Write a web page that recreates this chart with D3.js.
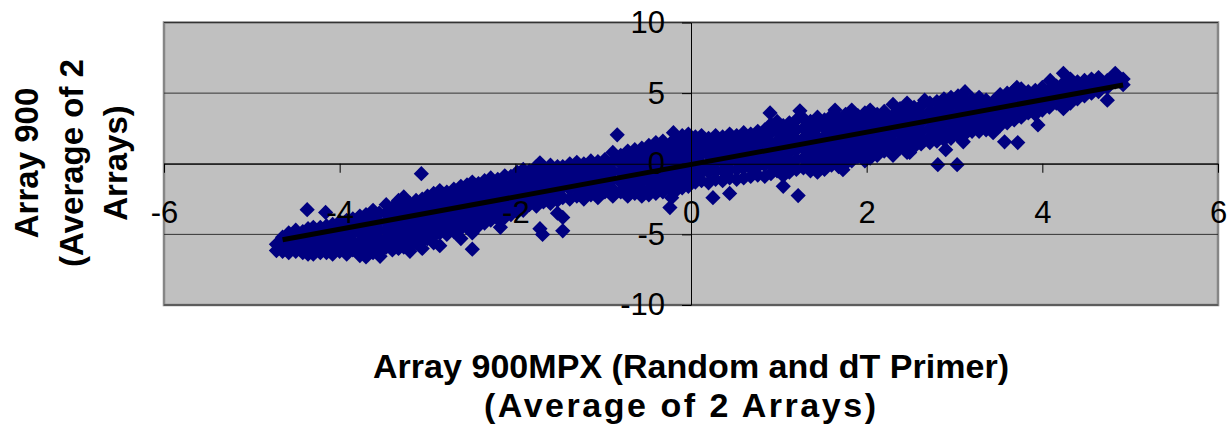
<!DOCTYPE html>
<meta charset="utf-8">
<head>
  <title>Array 900 vs Array 900MPX</title>
</head>

<style>
body { margin: 0; background: #fff; }
text { font-family: "Liberation Sans", Arial, sans-serif; fill: #000; }
.tick text { font-size: 31px; }
.axis-title { font-size: 34px; font-weight: bold; }
.y-title { font-size: 33px; font-weight: bold; }
</style>

<body>
  <svg width="1230" height="426"></svg>

  <script src="https://cdnjs.cloudflare.com/ajax/libs/d3/7.8.5/d3.min.js"></script>
  <script>

const xTicks = [-6, -4, -2, 0, 2, 4, 6];
const yTicks = [-10, -5, 0, 5, 10];

const xTitle = ["Array 900MPX (Random and dT Primer)", "(Average of 2 Arrays)"];
const xTitleWidth = [636, 392];
const xTitleCenter = [691, 680];
const yTitle = ["Array 900", "(Average of 2", "Arrays)"];

// linear trend line, two ends
const trendX = [-4.65, 4.92];
const trendY = [-5.38, 5.58];

// the dense band, one column per x: [x, [y values]]
const bandLeft = [
  [-4.72, [-5.7, -6.15]],
  [-4.65, [-5.2, -5.7, -6.2]],
  [-4.58, [-4.9, -5.4, -5.9, -6.3]],
  [-4.50, [-4.7, -5.2, -5.7, -6.2]],
  [-4.42, [-4.8, -5.3, -5.8, -6.3]],
  [-4.36, [-4.6, -5.1, -5.6, -6.1, -6.4]],
  [-4.30, [-4.5, -5.0, -5.5, -6.0, -6.4]],
  [-4.22, [-4.5, -5.0, -5.5, -6.0, -6.3]],
  [-4.15, [-4.4, -4.9, -5.4, -5.9, -6.3]],
  [-4.08, [-4.3, -4.8, -5.3, -5.8, -6.4]],
  [-4.00, [-4.1, -4.6, -5.1, -5.6, -6.2]],
  [-3.92, [-4.0, -4.5, -5.0, -5.6, -6.1, -6.4]],
  [-3.85, [-3.9, -4.4, -4.9, -5.5, -6.1]],
  [-3.77, [-3.7, -4.3, -4.9, -5.5, -6.0, -6.5]],
  [-3.70, [-3.6, -4.2, -4.8, -5.4, -6.0, -6.6]],
  [-3.62, [-3.3, -3.9, -4.5, -5.1, -5.7, -6.3]],
  [-3.55, [-3.5, -4.1, -4.7, -5.3, -5.8, -6.3]],
  [-3.47, [-2.9, -3.5, -4.1, -4.7, -5.3, -5.9]],
  [-3.40, [-3.1, -3.7, -4.3, -4.9, -5.5, -6.1]],
  [-3.33, [-2.6, -3.2, -3.8, -4.4, -5.0, -5.6, -6.0]],
  [-3.27, [-2.35, -3.0, -3.6, -4.2, -4.8, -5.4, -5.9]],
  [-3.20, [-2.8, -3.4, -4.0, -4.6, -5.2, -5.8, -6.2]],
  [-3.13, [-2.6, -3.2, -3.8, -4.4, -5.0, -5.6]],
  [-3.06, [-2.5, -3.1, -3.7, -4.3, -4.9, -5.5, -6.0]],
  [-3.00, [-2.3, -2.9, -3.5, -4.1, -4.7, -5.3]],
  [-2.93, [-2.1, -2.7, -3.3, -3.9, -4.5, -5.1, -5.6]],
  [-2.86, [-1.9, -2.5, -3.1, -3.7, -4.3, -4.9, -5.8]],
  [-2.78, [-2.0, -2.6, -3.2, -3.8, -4.4, -5.0]],
  [-2.70, [-1.8, -2.4, -3.0, -3.6, -4.2, -4.8]],
  [-2.62, [-1.6, -2.2, -2.8, -3.4, -4.0, -4.6, -5.3]],
  [-2.55, [-1.5, -2.1, -2.7, -3.3, -3.9, -4.5]],
  [-2.49, [-1.3, -1.9, -2.5, -3.1, -3.7, -4.3, -4.9]],
  [-2.42, [-1.4, -2.0, -2.6, -3.2, -3.8, -4.4]],
  [-2.35, [-1.2, -1.8, -2.4, -3.0, -3.6, -4.2]],
  [-2.28, [-1.0, -1.6, -2.2, -2.8, -3.4, -4.0]],
  [-2.20, [-1.1, -1.7, -2.3, -2.9, -3.5, -3.9]],
  [-2.12, [-0.85, -1.5, -2.1, -2.7, -3.3, -3.8]],
  [-2.05, [-0.9, -1.5, -2.1, -2.7, -3.3, -3.6]],
  [-1.98, [-0.6, -1.2, -1.8, -2.4, -3.0, -3.4]],
  [-1.91, [-0.4, -1.0, -1.6, -2.2, -2.8, -3.3]],
  [-1.84, [-0.5, -1.1, -1.7, -2.3, -2.9]],
  [-1.76, [-0.2, -0.8, -1.4, -2.0, -2.6, -3.0]],
  [-1.68, [-0.3, -0.9, -1.5, -2.1, -2.7]],
  [-1.60, [-0.1, -0.7, -1.3, -1.9, -2.5, -2.8]],
  [-1.52, [-0.2, -0.8, -1.4, -2.0, -2.6, -3.5]]
];

const bandCenter = [
  [-1.46, [-0.2, -0.9, -1.6, -2.4]],
  [-1.38, [0.0, -0.5, -1.1, -1.8, -2.5]],
  [-1.30, [0.1, -0.4, -1.0, -1.6, -2.3]],
  [-1.22, [0.0, -0.6, -1.2, -1.9, -2.5]],
  [-1.14, [0.2, -0.3, -0.9, -1.5, -2.2]],
  [-1.06, [0.15, -0.4, -1.0, -1.7, -2.4]],
  [-0.98, [0.3, -0.2, -0.8, -1.4, -2.0]],
  [-0.89, [0.8, 0.2, -0.5, -1.1, -1.8, -2.3]],
  [-0.80, [0.6, 0.0, -0.6, -1.3, -2.0]],
  [-0.72, [0.9, 0.3, -0.4, -1.0, -1.7, -2.3]],
  [-0.64, [1.0, 0.4, -0.2, -0.9, -1.5, -2.1]],
  [-0.56, [1.1, 0.5, -0.1, -0.7, -1.3, -1.9, -2.3]],
  [-0.48, [1.3, 0.7, 0.1, -0.6, -1.2, -1.8, -2.2]],
  [-0.40, [1.5, 0.8, 0.2, -0.4, -1.0, -1.6, -2.1]],
  [-0.32, [1.6, 1.0, 0.3, -0.3, -0.9, -1.5, -2.0]],
  [-0.24, [1.4, 0.7, 0.0, -0.7, -1.3, -1.8]],
  [-0.17, [1.8, 1.1, 0.4, -0.2, -0.8, -1.4, -1.9]],
  [-0.10, [2.0, 1.3, 0.6, 0.0, -0.6, -1.2, -1.7]],
  [-0.03, [2.1, 1.5, 0.8, 0.1, -0.5, -1.1, -1.6]],
  [0.05, [1.9, 1.2, 0.5, -0.1, -0.7, -1.3]],
  [0.12, [2.0, 1.4, 0.7, 0.0, -0.6, -1.2]],
  [0.20, [1.8, 1.2, 0.6, 0.0, -0.6, -1.35]],
  [0.28, [2.0, 1.4, 0.8, 0.1, -0.5, -1.1]],
  [0.36, [1.9, 1.3, 0.7, 0.1, -0.5, -1.2]],
  [0.44, [2.1, 1.5, 0.9, 0.2, -0.4, -1.0]],
  [0.52, [2.0, 1.4, 0.8, 0.2, -0.4, -1.1]],
  [0.60, [2.2, 1.6, 1.0, 0.3, -0.3, -1.0]],
  [0.68, [2.1, 1.5, 0.9, 0.3, -0.3, -0.9]],
  [0.76, [2.3, 1.7, 1.1, 0.4, -0.2, -0.8]],
  [0.84, [2.4, 1.8, 1.2, 0.5, -0.1, -0.9]],
  [0.91, [2.8, 2.2, 1.4, 0.7, 0.0, -0.7]],
  [0.98, [3.0, 2.3, 1.6, 0.9, 0.2, -0.5]],
  [1.05, [2.7, 2.0, 1.3, 0.6, -0.1, -0.85]],
  [1.12, [2.9, 2.2, 1.5, 0.8, 0.1, -0.6]],
  [1.20, [3.1, 2.4, 1.7, 1.0, 0.3, -0.4]],
  [1.28, [3.2, 2.5, 1.8, 1.1, 0.4, -0.3]],
  [1.36, [3.0, 2.3, 1.6, 0.9, 0.2, -0.5]],
  [1.44, [3.3, 2.6, 1.9, 1.2, 0.5, -0.2, -0.6]]
];

const bandRight = [
  [1.52, [3.1, 2.5, 1.9, 1.3, 0.7, 0.1, -0.4]],
  [1.60, [3.4, 2.8, 2.2, 1.6, 1.0, 0.4, -0.1]],
  [1.68, [3.2, 2.6, 2.0, 1.4, 0.8, 0.2, -0.2]],
  [1.76, [3.5, 2.9, 2.3, 1.7, 1.1, 0.5, 0.0]],
  [1.83, [3.0, 2.4, 1.8, 1.2, 0.6, 0.2]],
  [1.90, [3.4, 2.8, 2.2, 1.6, 1.0, 0.5]],
  [1.98, [3.6, 3.0, 2.4, 1.8, 1.2, 0.6, 0.2]],
  [2.04, [3.1, 2.5, 1.9, 1.3, 0.7, 0.4]],
  [2.12, [3.5, 2.9, 2.3, 1.7, 1.1, 0.6]],
  [2.20, [3.7, 3.1, 2.5, 1.9, 1.3, 0.9]],
  [2.30, [3.4, 2.8, 2.2, 1.6, 1.0, 0.6]],
  [2.38, [3.9, 3.3, 2.7, 2.1, 1.5, 1.1]],
  [2.46, [3.6, 3.0, 2.4, 1.8, 1.2, 0.8]],
  [2.54, [4.0, 3.4, 2.8, 2.2, 1.6, 1.2]],
  [2.62, [4.1, 3.5, 2.9, 2.3, 1.8, 1.4]],
  [2.72, [4.3, 3.7, 3.1, 2.5, 1.9, 1.5]],
  [2.80, [4.4, 3.8, 3.2, 2.6, 2.0, 1.6]],
  [2.88, [4.6, 4.0, 3.4, 2.8, 2.2, 1.7]],
  [2.96, [4.7, 4.1, 3.5, 2.9, 2.3, 1.8]],
  [3.04, [4.8, 4.2, 3.6, 3.0, 2.4, 2.0]],
  [3.12, [4.4, 3.8, 3.2, 2.6, 2.1]],
  [3.20, [4.6, 4.0, 3.4, 2.8, 2.3]],
  [3.28, [4.7, 4.1, 3.5, 2.9, 2.3]],
  [3.36, [4.5, 3.9, 3.3, 2.7, 2.4]],
  [3.44, [4.4, 3.8, 3.2, 2.6, 2.2]],
  [3.52, [4.9, 4.3, 3.7, 3.1, 2.7]],
  [3.60, [5.0, 4.4, 3.8, 3.2, 2.9]],
  [3.68, [5.2, 4.6, 4.0, 3.4, 3.1]],
  [3.76, [5.3, 4.7, 4.1, 3.5, 3.3]],
  [3.84, [5.1, 4.5, 3.9, 3.6]],
  [3.92, [5.2, 4.6, 4.0, 3.5]],
  [4.00, [5.4, 4.8, 4.2, 3.8]],
  [4.08, [5.2, 4.6, 4.0]],
  [4.16, [5.5, 4.9, 4.3]],
  [4.24, [5.7, 5.1, 4.5, 3.9]],
  [4.32, [6.0, 5.4, 4.8, 4.3]],
  [4.40, [5.8, 5.2, 4.6]],
  [4.48, [5.9, 5.3, 4.8]],
  [4.56, [6.0, 5.5, 5.0]],
  [4.64, [6.1, 5.6, 5.1]],
  [4.74, [5.9, 5.4]],
  [4.83, [6.3, 5.8]],
  [4.92, [5.6, 6.0]]
];

// single diamonds standing away from the band
const outliers = [
  [-4.37, -3.25], [-4.16, -3.45], [-3.54, -6.55], [-3.07, -0.7], [-2.49, -6.05],
  [-2.17, -4.5], [-1.72, 0.07], [-1.69, -5.0], [-1.72, -4.6], [-1.46, -4.75],
  [-1.46, -3.8], [-0.84, 2.05], [-0.2, 2.2], [-0.24, -3.1], [-0.22, -2.4],
  [0.25, -2.4], [0.44, -2.1], [0.9, 3.6], [1.05, -1.6], [1.22, -2.25],
  [1.24, 3.75], [1.64, 3.8], [1.83, 3.8], [2.04, 3.8], [1.73, -0.42],
  [2.3, 4.2], [2.46, 4.3], [2.66, 4.5], [2.49, 0.8], [2.81, -0.07],
  [3.03, -0.07], [2.9, 1.0], [3.1, 1.55], [3.12, 5.1], [3.57, 1.55],
  [3.72, 1.5], [3.71, 5.4], [3.95, 2.75], [4.09, 5.9], [4.24, 6.4],
  [4.28, 4.2], [4.74, 4.5], [4.83, 6.4]
];

const points = [];
[bandLeft, bandCenter, bandRight].forEach(band => {
  band.forEach(col => col[1].forEach(v => points.push({x: col[0], y: v})));
});
outliers.forEach(d => points.push({x: d[0], y: d[1]}));

const svg = d3.select('svg');

const x = d3.scaleLinear().domain([-6, 6]).range([164, 1218]);
const y = d3.scaleLinear().domain([-10, 10]).range([305, 22.5]);

// plot area
svg.append('rect')
  .attr('x', x(-6))
  .attr('y', y(10))
  .attr('width', x(6) - x(-6))
  .attr('height', y(-10) - y(10))
  .attr('fill', '#c0c0c0')
  .attr('stroke', '#868686')
  .attr('stroke-width', 2.5);

// horizontal gridlines
svg.append('g')
  .selectAll('line')
  .data(yTicks)
  .enter()
  .append('line')
  .attr('x1', x(-6))
  .attr('x2', x(6))
  .attr('y1', d => y(d))
  .attr('y2', d => y(d))
  .attr('stroke', '#333')
  .attr('stroke-width', 1);

// data
svg.append('g')
  .selectAll('path')
  .data(points)
  .enter()
  .append('path')
  .attr('d', d3.symbol(d3.symbolSquare, 116))
  .attr('transform', d => 'translate(' + x(d.x) + ',' + y(d.y) + ') rotate(45)')
  .attr('fill', '#000080');

// trend line
svg.append('path')
  .datum(d3.zip(trendX, trendY))
  .attr('d', d3.line().x(d => x(d[0])).y(d => y(d[1])))
  .attr('fill', 'none')
  .attr('stroke', '#000')
  .attr('stroke-width', 5);

// axes crossing at the origin
const xAxis = svg.append('g')
  .attr('transform', 'translate(0,' + y(0) + ')')
  .call(d3.axisBottom(x).tickValues(xTicks).tickSize(9).tickSizeOuter(0).tickPadding(28).tickFormat(d3.format('d')));

const yAxis = svg.append('g')
  .attr('transform', 'translate(' + x(0) + ',0)')
  .call(d3.axisLeft(y).tickValues(yTicks).tickSize(9).tickSizeOuter(0).tickPadding(17).tickFormat(d3.format('d')));

[xAxis, yAxis].forEach(g => {
  g.attr('font-family', null).attr('font-size', null);
  g.selectAll('path, line').attr('stroke', '#000');
  g.selectAll('text').text(d => String(d).replace('\u2212', '-'));
});

// axis titles
const xt = svg.append('text')
  .attr('class', 'axis-title')
  .attr('text-anchor', 'middle');
xt.selectAll('tspan')
  .data(xTitle)
  .enter()
  .append('tspan')
  .attr('x', (d, i) => xTitleCenter[i])
  .attr('y', (d, i) => 378 + i * 39)
  .attr('textLength', (d, i) => xTitleWidth[i])
  .attr('lengthAdjust', 'spacing')
  .text(d => d);

svg.append('g')
  .attr('transform', 'translate(0,163) rotate(-90)')
  .selectAll('text')
  .data(yTitle)
  .enter()
  .append('text')
  .attr('class', 'y-title')
  .attr('text-anchor', 'middle')
  .attr('x', 0)
  .attr('y', (d, i) => 38 + i * 44.5)
  .text(d => d);

  </script>
</body>
</html>
